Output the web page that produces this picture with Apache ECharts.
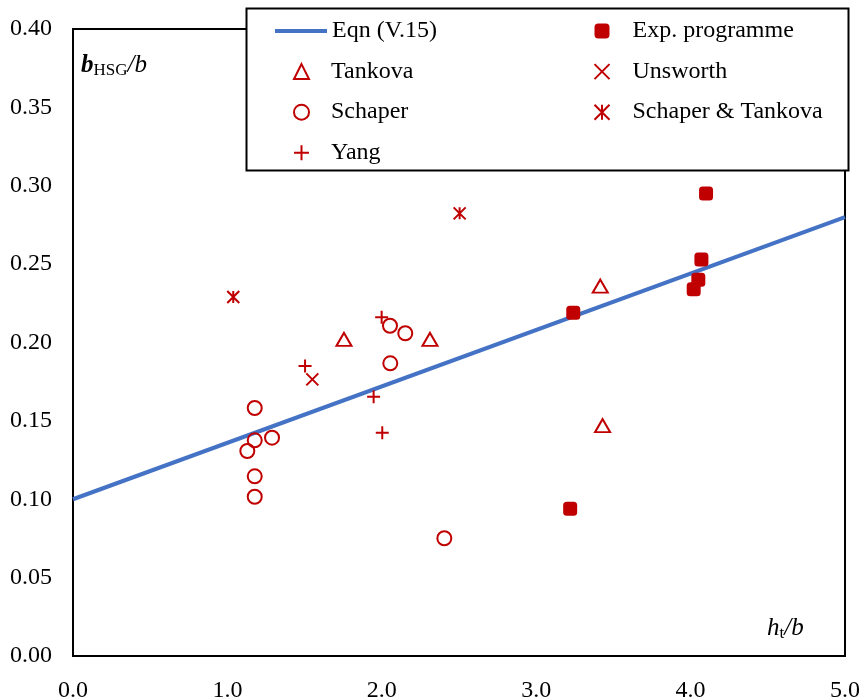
<!DOCTYPE html>
<html>
<head>
<meta charset="utf-8">
<script src="https://cdn.jsdelivr.net/npm/echarts@6/dist/echarts.min.js"></script>
<style>html,body{margin:0;padding:0;background:#fff}#chart{width:864px;height:698px}</style>
</head>
<body>
<div id="chart"></div>
<script>
// ---- data ----
var eqnX = [0, 5];
var eqnY = [0.10, 0.28];
var expX = [4.10, 4.07, 4.05, 4.02, 3.24, 3.22];
var expY = [0.295, 0.253, 0.240, 0.234, 0.219, 0.094];
var tankovaX = [1.755, 2.312, 3.415, 3.43];
var tankovaY = [0.202, 0.202, 0.236, 0.147];
var unsworthX = [1.55];
var unsworthY = [0.1765];
var schaperX = [2.053, 2.152, 2.055, 1.177, 1.177, 1.289, 1.129, 1.177, 1.177, 2.405];
var schaperY = [0.2107, 0.2059, 0.1867, 0.1582, 0.1376, 0.1393, 0.1308, 0.1146, 0.1016, 0.0751];
var stX = [1.038, 2.504];
var stY = [0.229, 0.2824];
var yangX = [1.999, 1.503, 1.947, 2.003];
var yangY = [0.2161, 0.185, 0.1654, 0.1425];
var xTicks = ['0.0', '1.0', '2.0', '3.0', '4.0', '5.0'];
var yTicks = ['0.00', '0.05', '0.10', '0.15', '0.20', '0.25', '0.30', '0.35', '0.40'];

function pairs(xs, ys) { return xs.map(function (x, i) { return [x, ys[i]]; }); }

var RED = '#C00000';
var BLUE = '#4472C4';
var FONT = '"Liberation Serif", "Times New Roman", serif';
var PLUS = 'path://M5,0 L5,10 M0,5 L10,5';
var CROSS = 'path://M0,0 L10,10 M10,0 L0,10';
var STAR = 'path://M0,0 L10,10 M10,0 L0,10 M5,0 L5,10';

var hollow = { color: 'none', borderColor: RED, borderWidth: 2, opacity: 1 };

var chart = echarts.init(document.getElementById('chart'), null, { renderer: 'canvas' });
var ROWGAP = 40.6;
chart.setOption({
  animation: false,
  backgroundColor: '#fff',
  grid: { left: 73, right: 19, top: 29, bottom: 42, containLabel: false, outerBoundsMode: 'none', show: true, borderColor: '#000', borderWidth: 2, backgroundColor: 'transparent' },
  xAxis: {
    type: 'value', min: 0, max: 5, interval: 1,
    axisLine: { show: true, onZero: false, lineStyle: { color: '#000', width: 2 } },
    axisTick: { show: false }, splitLine: { show: false },
    axisLabel: { margin: 23, fontFamily: FONT, fontSize: 24, color: '#000', formatter: function (v) { return xTicks[Math.round(v)]; } }
  },
  yAxis: {
    type: 'value', min: 0, max: 0.4, interval: 0.05,
    axisLine: { show: true, onZero: false, lineStyle: { color: '#000', width: 2 } },
    axisTick: { show: false }, splitLine: { show: false },
    axisLabel: { margin: 21, fontFamily: FONT, fontSize: 24, color: '#000', formatter: function (v) { return yTicks[Math.round(v / 0.05)]; } }
  },
  graphic: [
    { type: 'rect', z: 50, shape: { x: 246.5, y: 8.5, width: 602, height: 162 }, style: { fill: '#fff', stroke: '#000', lineWidth: 2 } },
    { type: 'text', z: 60, left: 81, top: 53, style: {
        rich: {
          b: { fontFamily: FONT, fontSize: 25, fontStyle: 'italic', fontWeight: 'bold', fill: '#000' },
          s: { fontFamily: FONT, fontSize: 17, fill: '#000', padding: [10, 0, 0, 0] },
          i: { fontFamily: FONT, fontSize: 25, fontStyle: 'italic', fill: '#000' }
        },
        text: '{b|b}{s|HSG}{i|/b}'
    } },
    { type: 'text', z: 60, left: 767, top: 616, style: {
        rich: {
          i: { fontFamily: FONT, fontSize: 25, fontStyle: 'italic', fill: '#000' },
          s: { fontFamily: FONT, fontSize: 17, fill: '#000', padding: [10, 0, 0, 0] }
        },
        text: '{i|h}{s|t}{i|/b}'
    } }
  ],
  legend: [
    { z: 60, orient: 'vertical', left: 273, top: 19, padding: 0, itemWidth: 52, itemHeight: 15,
      lineStyle: { color: BLUE, width: 4 },
      textStyle: { fontFamily: FONT, fontSize: 24, color: '#000', lineHeight: 24, padding: [0, 0, 0, 0] },
      data: ['Eqn (V.15)'] },
    { z: 60, orient: 'vertical', left: 291.5, top: 19 + ROWGAP, padding: 0, itemWidth: 15, itemHeight: 15, itemGap: ROWGAP - 24,
      textStyle: { fontFamily: FONT, fontSize: 24, color: '#000', lineHeight: 24, padding: [0, 0, 0, 17] },
      data: ['Tankova', 'Schaper', 'Yang'] },
    { z: 60, orient: 'vertical', left: 592, top: 19, padding: 0, itemWidth: 15, itemHeight: 15, itemGap: ROWGAP - 24,
      textStyle: { fontFamily: FONT, fontSize: 24, color: '#000', lineHeight: 24, padding: [0, 0, 0, 18] },
      data: ['Exp. programme', 'Unsworth', 'Schaper & Tankova'] }
  ],
  series: [
    { name: 'Eqn (V.15)', type: 'line', symbol: 'none', data: pairs(eqnX, eqnY), lineStyle: { color: BLUE, width: 4 }, itemStyle: { color: 'rgba(0,0,0,0)', borderWidth: 0 }, z: 2 },
    { name: 'Tankova', type: 'scatter', symbol: 'triangle', symbolSize: [15, 13], data: pairs(tankovaX, tankovaY), itemStyle: hollow, z: 3 },
    { name: 'Schaper', type: 'scatter', symbol: 'circle', symbolSize: 14, data: pairs(schaperX, schaperY), itemStyle: hollow, z: 3 },
    { name: 'Yang', type: 'scatter', symbol: PLUS, symbolSize: 13, data: pairs(yangX, yangY), itemStyle: hollow, z: 3 },
    { name: 'Exp. programme', type: 'scatter', symbol: 'roundRect', symbolSize: 14, data: pairs(expX, expY), itemStyle: { color: RED, opacity: 1 }, z: 3 },
    { name: 'Unsworth', type: 'scatter', symbol: CROSS, symbolSize: 12, data: pairs(unsworthX, unsworthY), itemStyle: hollow, z: 3 },
    { name: 'Schaper & Tankova', type: 'scatter', symbol: STAR, symbolSize: 12, data: pairs(stX, stY), itemStyle: hollow, z: 3 }
  ]
});
</script>
</body>
</html>
